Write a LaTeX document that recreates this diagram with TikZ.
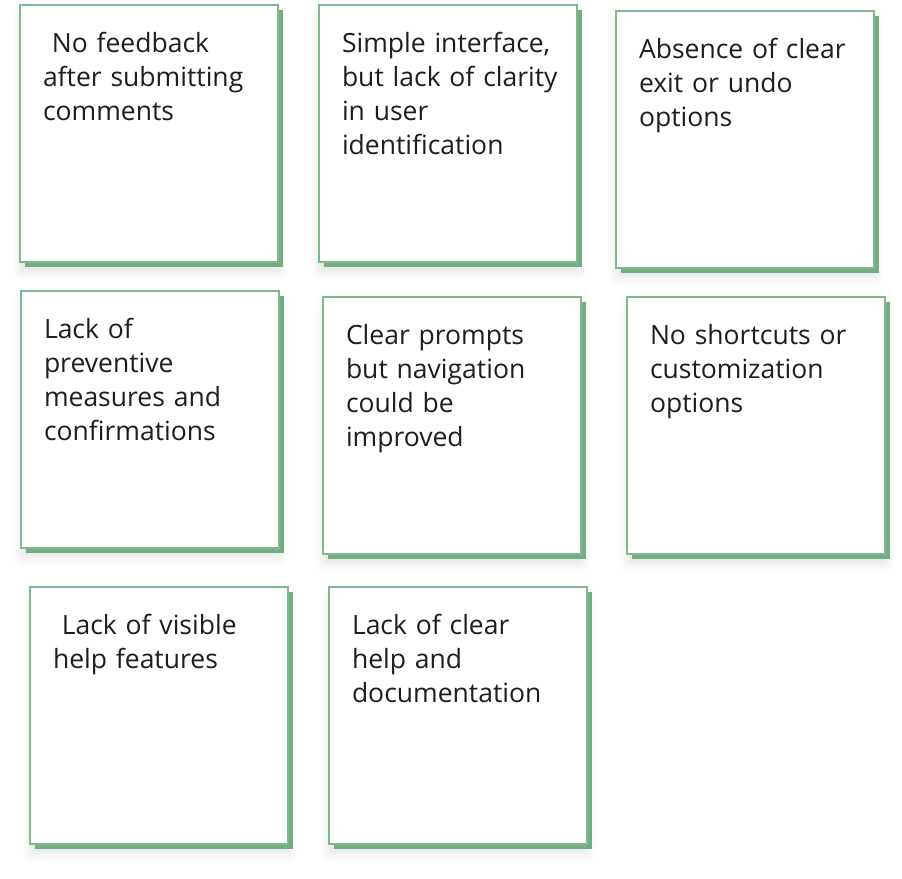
\documentclass[tikz,border=0pt]{standalone}
\usepackage{fontspec}
\setmainfont{Open Sans}
\usetikzlibrary{shadows,shadows.blur}

\definecolor{noteedge}{RGB}{126,186,141}
\definecolor{noteshade}{RGB}{116,173,129}
\definecolor{notetext}{RGB}{30,30,30}

\begin{document}
\begin{tikzpicture}[x=1pt, y=-1pt,
	note/.style={anchor=north west, draw=noteedge, line width=2pt, fill=white,
		blur shadow={shadow xshift=1pt, shadow yshift=-9pt, shadow blur radius=9pt, shadow opacity=12},
		general shadow={fill=noteshade, shadow xshift=5pt, shadow yshift=-5pt},
		inner xsep=23pt, inner ysep=0pt, text width=212pt, text height=47pt, text depth=210pt,
		align=left, text=notetext, font=\fontsize{26.5}{34}\selectfont}]
	\useasboundingbox (0,0) rectangle (902,878);
	% row 1
	\node[note] (feedback) at (19,4) {~No feedback\\after submitting\\comments};
	\node[note] (clarity) at (318,4) {Simple interface,\\\mbox{but lack of clarity}\\in user\\identification};
	\node[note] (undo) at (615,10) {Absence of clear\\exit or undo\\options};
	% row 2
	\node[note] (prevent) at (20,290) {Lack of\\preventive\\measures and\\confirmations};
	\node[note] (prompts) at (322,296) {Clear prompts\\but navigation\\could be\\improved};
	\node[note] (shortcuts) at (626,296) {No shortcuts or\\customization\\options};
	% row 3
	\node[note] (helpvis) at (29,586) {~Lack of visible\\help features};
	\node[note] (docs) at (328,586) {Lack of clear\\help and\\documentation};
\end{tikzpicture}
\end{document}
